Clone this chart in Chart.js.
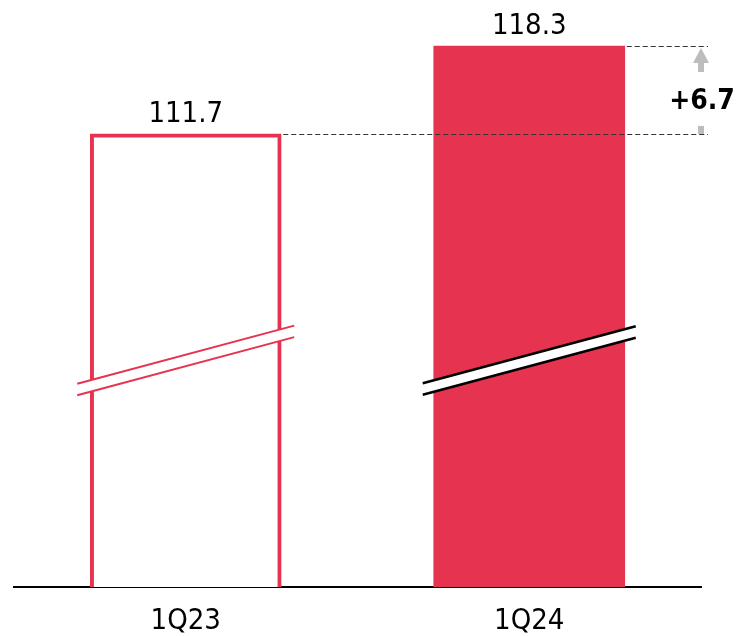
<!DOCTYPE html>
<html>
<head>
<meta charset="utf-8">
<script src="https://cdn.jsdelivr.net/npm/chart.js@4/dist/chart.umd.min.js"></script>
<style>
  html, body { margin: 0; padding: 0; background: #fff; }
  canvas { display: block; }
</style>
</head>
<body>
<canvas id="c" width="736" height="636"></canvas>
<script>
// Quarterly figures
const categories = ['1Q23', '1Q24'];
const values = [111.7, 118.3];
const changeLabels = ['+6.7'];

const RED = '#E6334F';
const FONT = '"Liberation Sans Narrow", "DejaVu Sans Condensed", "DejaVu Sans", sans-serif';

// Value labels, dashed guide lines, change arrow and axis-break marks
const overlay = {
  id: 'overlay',
  afterDatasetsDraw(chart) {
    const ctx = chart.ctx;
    const bars = chart.getDatasetMeta(0).data;
    const area = chart.chartArea;
    const base = area.bottom;

    // axis-break marks, centred halfway up the first bar
    const breakY = (base + bars[0].y) / 2;
    bars.forEach((bar, i) => {
      const half = bar.width / 2 + (i === 0 ? 13 : 11);
      const x0 = bar.x - half, x1 = bar.x + half;
      const rise = (x1 - x0) * 0.268;
      const gap = 11.5;
      const yA0 = breakY + rise / 2 - gap / 2;
      const yA1 = breakY - rise / 2 - gap / 2;
      ctx.save();
      ctx.fillStyle = '#fff';
      ctx.beginPath();
      ctx.moveTo(x0, yA0);
      ctx.lineTo(x1, yA1);
      ctx.lineTo(x1, yA1 + gap);
      ctx.lineTo(x0, yA0 + gap);
      ctx.closePath();
      ctx.fill();
      ctx.strokeStyle = i === 0 ? RED : '#000';
      ctx.lineWidth = i === 0 ? 2 : 2.5;
      ctx.beginPath();
      ctx.moveTo(x0, yA0);
      ctx.lineTo(x1, yA1);
      ctx.moveTo(x0, yA0 + gap);
      ctx.lineTo(x1, yA1 + gap);
      ctx.stroke();
      ctx.restore();
    });

    // value labels above bars
    ctx.save();
    ctx.fillStyle = '#000';
    ctx.font = '29px ' + FONT;
    ctx.textAlign = 'center';
    ctx.textBaseline = 'alphabetic';
    bars.forEach((bar, i) => {
      ctx.fillText(values[i].toFixed(1), bar.x, bar.y - 12);
    });
    ctx.restore();

    // dashed guide lines from bar tops
    const lineEnd = area.right + 7;
    ctx.save();
    ctx.strokeStyle = '#333';
    ctx.lineWidth = 1;
    ctx.setLineDash([5, 3]);
    bars.forEach((bar) => {
      const y = Math.round(bar.y) + 0.5;
      ctx.beginPath();
      ctx.moveTo(bar.x + bar.width / 2 + 2, y);
      ctx.lineTo(lineEnd, y);
      ctx.stroke();
    });
    ctx.restore();

    // change arrow with its label
    const ax = area.right;
    const yTop = bars[1].y, yBot = bars[0].y;
    ctx.save();
    ctx.fillStyle = '#BDBDBD';
    ctx.beginPath();
    ctx.moveTo(ax, yTop + 2);
    ctx.lineTo(ax + 8, yTop + 17);
    ctx.lineTo(ax - 8, yTop + 17);
    ctx.closePath();
    ctx.fill();
    ctx.fillRect(ax - 3, yTop + 16, 6, 10);
    ctx.fillRect(ax - 3, yBot - 8, 6, 8);
    ctx.fillStyle = '#000';
    ctx.font = 'bold 28px ' + FONT;
    ctx.textAlign = 'center';
    ctx.textBaseline = 'middle';
    ctx.fillText(changeLabels[0], ax + 1, (yTop + yBot) / 2 + 12);
    ctx.restore();
  }
};

new Chart(document.getElementById('c'), {
  type: 'bar',
  data: {
    labels: categories,
    datasets: [{
      data: values,
      backgroundColor: ['#fff', RED],
      borderColor: [RED, RED],
      borderWidth: [4, 0],
      borderSkipped: false,
      barThickness: 191
    }]
  },
  options: {
    responsive: false,
    animation: false,
    events: [],
    layout: { padding: { left: 14, right: 35, top: 0, bottom: 0 } },
    plugins: { legend: { display: false }, tooltip: { enabled: false } },
    scales: {
      x: {
        grid: { display: false, drawTicks: false },
        border: { display: true, color: '#000', width: 2 },
        ticks: { color: '#000', font: { family: FONT, size: 29 }, padding: 17 },
        afterFit(scale) { scale.height = 49; }
      },
      y: {
        display: false,
        min: 77.7,
        max: 121.75
      }
    }
  },
  plugins: [overlay]
});
</script>
</body>
</html>
